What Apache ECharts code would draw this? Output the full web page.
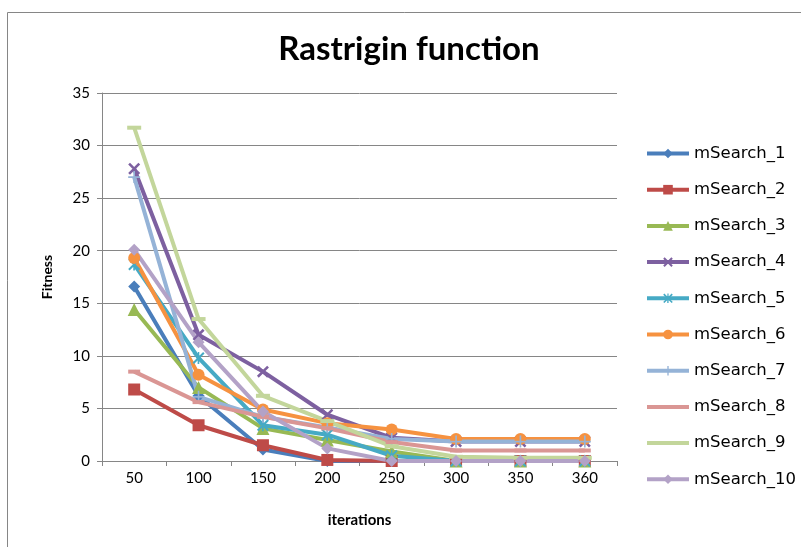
<!DOCTYPE html>
<html>
<head>
<meta charset="utf-8">
<script src="https://cdn.jsdelivr.net/npm/echarts@6/dist/echarts.min.js"></script>
<style>
  html, body { margin: 0; padding: 0; background: #fff; }
  #main { width: 801px; height: 547px; }
</style>
</head>
<body>
<div id="main"></div>
<script>
var iterations = ['50', '100', '150', '200', '250', '300', '350', '360'];
var yTicks = [0, 5, 10, 15, 20, 25, 30, 35];

var mSearch_1 = [16.6, 6.2, 1.1, 0, 0, 0, 0, 0];
var mSearch_2 = [6.8, 3.4, 1.5, 0.1, 0, 0, 0, 0];
var mSearch_3 = [14.4, 7.0, 3.1, 2.0, 0.9, 0, 0, 0];
var mSearch_4 = [27.8, 12.0, 8.5, 4.4, 2.2, 1.85, 1.85, 1.85];
var mSearch_5 = [18.7, 9.8, 3.4, 2.5, 0.5, 0, 0, 0];
var mSearch_6 = [19.3, 8.2, 4.9, 3.6, 3.0, 2.1, 2.1, 2.1];
var mSearch_7 = [27.0, 6.1, 4.2, 3.2, 2.1, 1.85, 1.85, 1.85];
var mSearch_8 = [8.5, 5.6, 4.2, 3.1, 1.8, 1.0, 1.0, 1.0];
var mSearch_9 = [31.7, 13.5, 6.2, 3.8, 1.4, 0.4, 0.3, 0.3];
var mSearch_10 = [20.1, 11.3, 4.7, 1.2, 0, 0, 0, 0];

var xPath = 'path://M0,1.5L1.5,0L10,8.5L8.5,10Z M8.5,0L10,1.5L1.5,10L0,8.5Z';
var plusPath = 'path://M4.3,0h1.4v10h-1.4z M0,4.3h10v1.4h-10z';
var starPath = 'path://M0,1.2L1.2,0L10,8.8L8.8,10Z M8.8,0L10,1.2L1.2,10L0,8.8Z M4.4,0h1.2v10h-1.4z';
var barIcon = 'path://M0,0h42v4h-42z';

var seriesDefs = [
  { name: 'mSearch_1', data: mSearch_1, color: '#4a7ebb', symbol: 'diamond', size: 12 },
  { name: 'mSearch_2', data: mSearch_2, color: '#be4b48', symbol: 'rect', size: 12 },
  { name: 'mSearch_3', data: mSearch_3, color: '#98b954', symbol: 'triangle', size: 13 },
  { name: 'mSearch_4', data: mSearch_4, color: '#7d60a0', symbol: xPath, size: 12 },
  { name: 'mSearch_5', data: mSearch_5, color: '#46aac5', symbol: starPath, size: 12 },
  { name: 'mSearch_6', data: mSearch_6, color: '#f69240', symbol: 'circle', size: 12 },
  { name: 'mSearch_7', data: mSearch_7, color: '#95b3d7', symbol: plusPath, size: 12 },
  { name: 'mSearch_8', data: mSearch_8, color: '#da9694', symbol: 'rect', size: [12, 4], plain: true },
  { name: 'mSearch_9', data: mSearch_9, color: '#c3d69b', symbol: 'rect', size: [14, 4], plain: true },
  { name: 'mSearch_10', data: mSearch_10, color: '#b3a2c7', symbol: 'diamond', size: 12 }
];

var myChart = echarts.init(document.getElementById('main'));

var series = seriesDefs.map(function (s) {
  return {
    name: s.name,
    type: 'line',
    data: s.data,
    symbol: s.symbol,
    symbolSize: s.size,
    showAllSymbol: true,
    animation: false,
    lineStyle: { color: s.color, width: 4 },
    itemStyle: { color: s.color }
  };
});

var legendData = seriesDefs.map(function (s) {
  return s.plain ? { name: s.name, icon: barIcon } : { name: s.name };
});

myChart.setOption({
  backgroundColor: '#fff',
  title: {
    text: 'Rastrigin function',
    left: 404,
    textAlign: 'center',
    top: 28,
    textStyle: { fontFamily: 'Lato', fontWeight: 'bold', fontSize: 33, color: '#000' }
  },
  legend: {
    orient: 'vertical',
    left: 640,
    top: 140,
    itemWidth: 42,
    itemHeight: 12,
    itemGap: 19.2,
    lineStyle: { width: 4 },
    textStyle: { fontFamily: 'DejaVu Sans', fontSize: 16.5, color: '#000' },
    data: legendData
  },
  grid: { left: 102, right: 184, top: 93, bottom: 86 },
  xAxis: {
    type: 'category',
    data: iterations,
    name: 'iterations',
    nameLocation: 'middle',
    nameGap: 52,
    nameTextStyle: { fontFamily: 'Lato', fontWeight: 'bold', fontSize: 15, color: '#000' },
    axisLine: { lineStyle: { color: '#868686', width: 1 } },
    axisTick: { show: true, length: 5, lineStyle: { color: '#868686' } },
    axisLabel: { fontFamily: 'Lato', fontSize: 15, color: '#000', margin: 10 }
  },
  yAxis: {
    type: 'value',
    min: 0,
    max: 35,
    interval: 5,
    name: 'Fitness',
    nameLocation: 'middle',
    nameRotate: 90,
    nameGap: 48,
    nameTextStyle: { fontFamily: 'Lato', fontWeight: 'bold', fontSize: 14, color: '#000' },
    axisLine: { show: true, lineStyle: { color: '#868686', width: 1 } },
    axisTick: { show: true, length: 5, lineStyle: { color: '#868686' } },
    axisLabel: {
      fontFamily: 'Lato', fontSize: 15, color: '#000', margin: 12,
      formatter: function (v) { return yTicks.indexOf(v) >= 0 ? String(v) : ''; }
    },
    splitLine: { lineStyle: { color: '#868686', width: 1 } }
  },
  graphic: [
    {
      type: 'rect',
      left: 5, top: 10,
      shape: { width: 830, height: 560 },
      style: { fill: 'none', stroke: '#868686', lineWidth: 1 },
      silent: true
    }
  ],
  series: series
});
</script>
</body>
</html>
